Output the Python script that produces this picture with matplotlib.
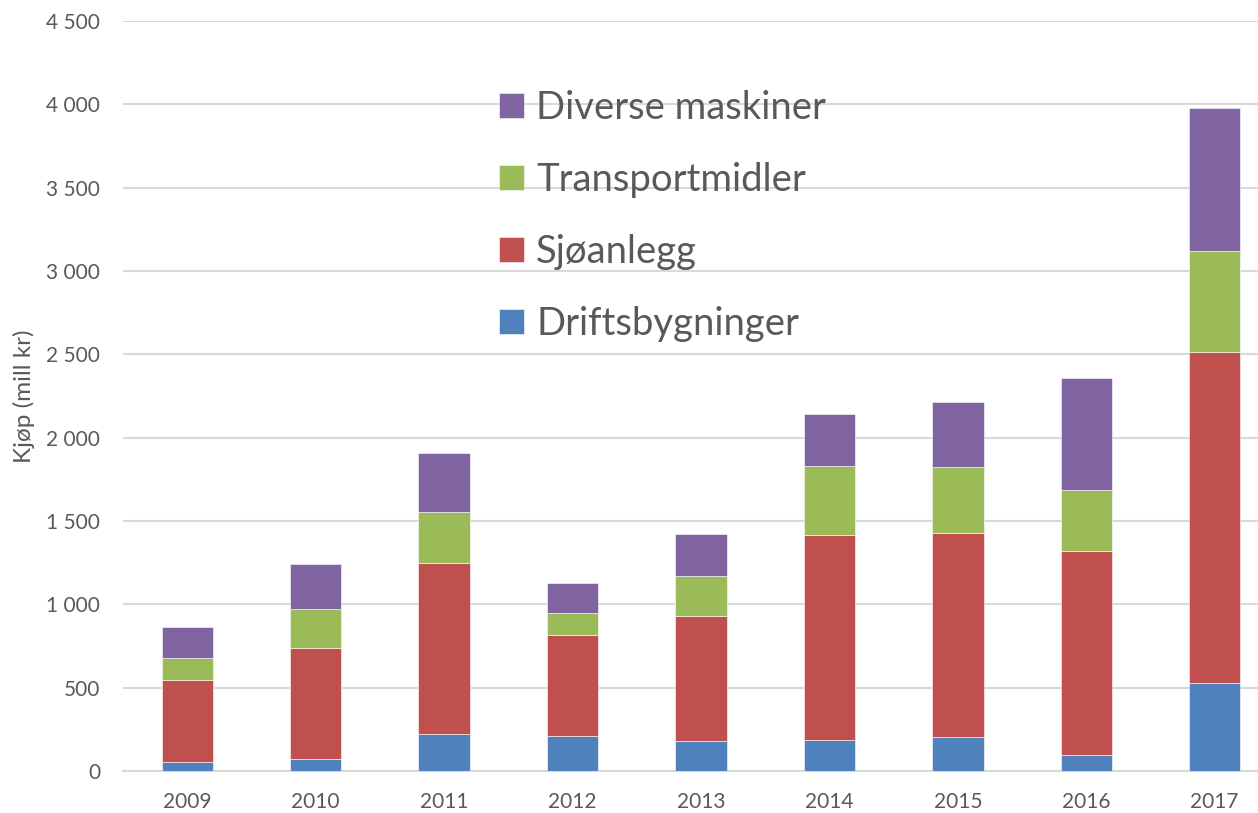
import matplotlib.pyplot as plt
import numpy as np
from matplotlib.ticker import FuncFormatter

plt.rcParams['font.family'] = ['Lato', 'DejaVu Sans']

years = ['2009', '2010', '2011', '2012', '2013', '2014', '2015', '2016', '2017']
driftsbygninger = [52, 70, 220, 208, 182, 189, 202, 95, 530]
sjoanlegg = [496, 670, 1029, 610, 749, 1225, 1226, 1226, 1981]
transportmidler = [130, 231, 306, 131, 238, 416, 395, 365, 608]
diverse = [186, 272, 350, 180, 252, 312, 390, 673, 861]

series = [
    ("Driftsbygninger", driftsbygninger, "#4F81BD"),
    ("Sjøanlegg", sjoanlegg, "#C0504D"),
    ("Transportmidler", transportmidler, "#9BBB59"),
    ("Diverse maskiner", diverse, "#8064A2"),
]

fig = plt.figure(figsize=(12.58, 8.13), dpi=100)
ax = fig.add_axes([123/1258, 42/813, 1135/1258, 750/813])

x = np.arange(len(years))
bottom = np.zeros(len(years))
handles = []
for name, vals, col in series:
    b = ax.bar(x, vals, 0.4, bottom=bottom, color=col, edgecolor='white',
               linewidth=0.4, label=name, zorder=3)
    handles.append(b)
    bottom += np.array(vals)

ax.set_ylim(0, 4500)
ax.set_yticks(np.arange(0, 4501, 500))
ax.yaxis.set_major_formatter(FuncFormatter(lambda v, p: f"{int(v):,}".replace(",", " ")))
ax.set_xlim(-0.5, 8.337)
ax.set_xticks(x)
ax.set_xticklabels(years)

ax.grid(axis='y', color='#d9d9d9', linewidth=1.5, zorder=0)
for s in ['top', 'right', 'left']:
    ax.spines[s].set_visible(False)
ax.spines['bottom'].set_color('#d9d9d9')
ax.spines['bottom'].set_linewidth(1.5)
ax.tick_params(axis='both', length=0, labelsize=15, colors='#595959')
ax.tick_params(axis='y', pad=16.5)
ax.tick_params(axis='x', pad=15)
ax.set_ylabel("Kjøp (mill kr)", fontsize=17.5, color='#595959')
ax.yaxis.set_label_coords(-88/1135, 0.5)

ax.legend(handles[::-1], [s[0] for s in series][::-1], loc='upper left',
          bbox_to_anchor=(499/1258, 1 - 90/813), bbox_transform=fig.transFigure,
          frameon=False, fontsize=27.5, handlelength=0.65, handleheight=0.65,
          handletextpad=0.32, labelspacing=0.94, borderpad=0, borderaxespad=0,
          labelcolor='#595959')

fig.savefig("out.png", dpi=100)
